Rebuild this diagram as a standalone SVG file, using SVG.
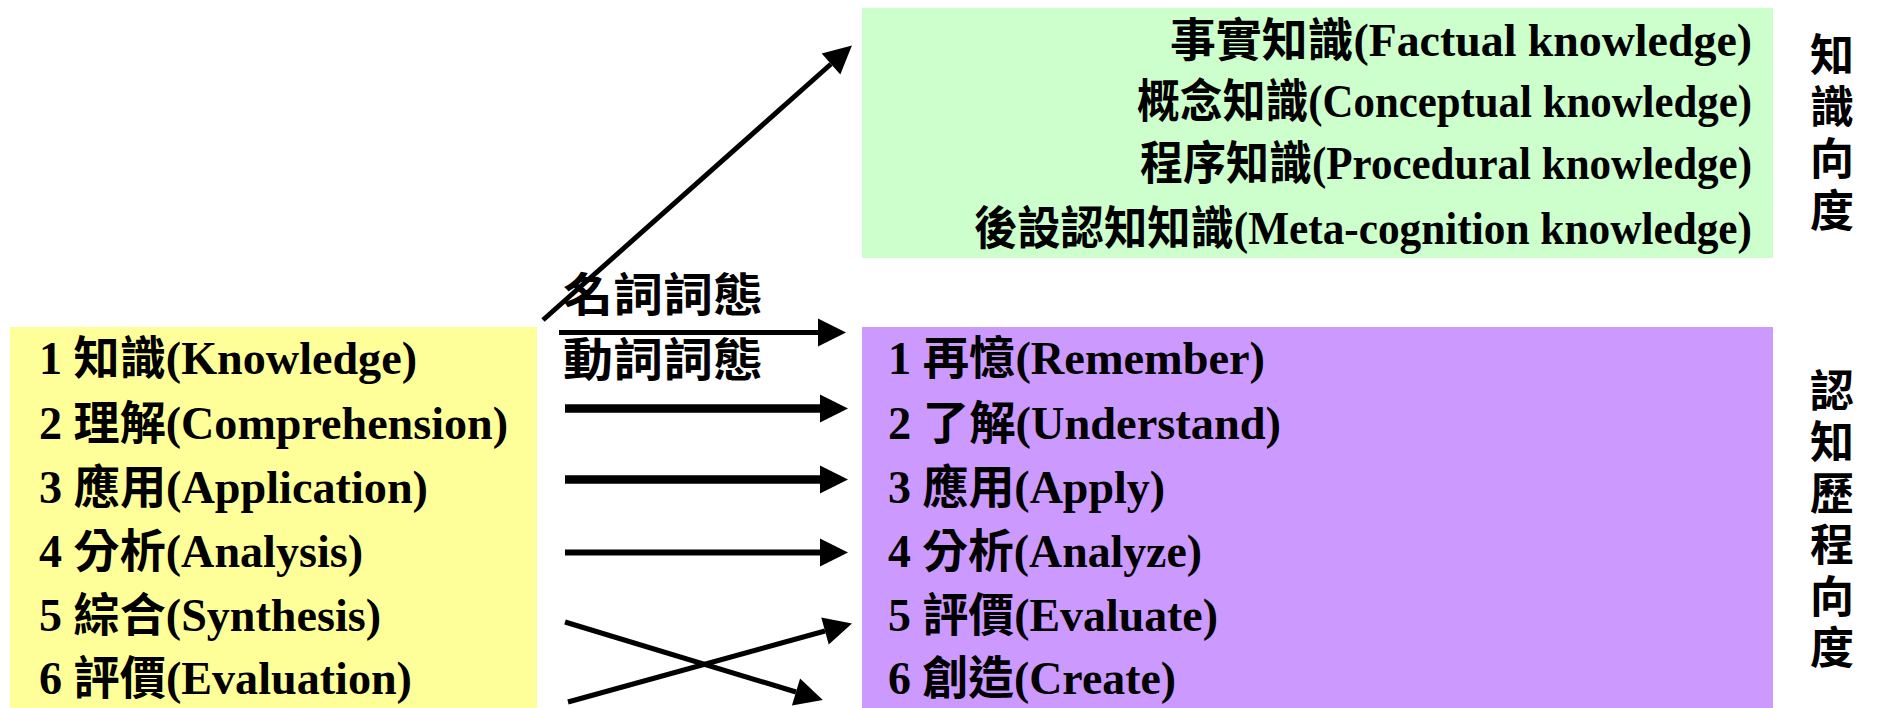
<svg xmlns="http://www.w3.org/2000/svg" width="1877" height="708" viewBox="0 0 1877 708">
<defs>
<style>
.t{font-family:"Liberation Serif","Noto Sans CJK TC",serif;font-size:46px;font-weight:bold;fill:#000}
.v{font-family:"Noto Sans CJK TC","Liberation Serif",sans-serif;font-size:44px;font-weight:bold;fill:#000;writing-mode:vertical-rl;text-orientation:upright}
.e{text-anchor:end}
.c{stroke:#000;fill:none}
</style>
<marker id="ah" markerUnits="userSpaceOnUse" markerWidth="28" markerHeight="28" refX="0" refY="14" orient="auto" overflow="visible"><path d="M0,0 L28,14 L0,28 z" fill="#000"/></marker>
</defs>
<rect width="1877" height="708" fill="#fff"/>

<g id="knowledge-dimension">
<rect x="862" y="8" width="911" height="250" fill="#CCFFCC"/>
<text class="t e" x="1752" y="56" textLength="582" lengthAdjust="spacingAndGlyphs">事實知識(Factual knowledge)</text>
<text class="t e" x="1752" y="117" textLength="615" lengthAdjust="spacingAndGlyphs">概念知識(Conceptual knowledge)</text>
<text class="t e" x="1752" y="179" textLength="612" lengthAdjust="spacingAndGlyphs">程序知識(Procedural knowledge)</text>
<text class="t e" x="1752" y="244" textLength="778" lengthAdjust="spacingAndGlyphs">後設認知知識(Meta-cognition knowledge)</text>
</g>

<g id="old-taxonomy">
<rect x="10" y="327" width="527" height="381" fill="#FFFF99"/>
<text class="t" x="39" y="374" textLength="378" lengthAdjust="spacingAndGlyphs">1 知識(Knowledge)</text>
<text class="t" x="39" y="439" textLength="469" lengthAdjust="spacingAndGlyphs">2 理解(Comprehension)</text>
<text class="t" x="39" y="503" textLength="389" lengthAdjust="spacingAndGlyphs">3 應用(Application)</text>
<text class="t" x="39" y="567" textLength="324" lengthAdjust="spacingAndGlyphs">4 分析(Analysis)</text>
<text class="t" x="39" y="631" textLength="342" lengthAdjust="spacingAndGlyphs">5 綜合(Synthesis)</text>
<text class="t" x="39" y="694" textLength="373" lengthAdjust="spacingAndGlyphs">6 評價(Evaluation)</text>
</g>

<g id="new-taxonomy">
<rect x="862" y="327" width="911" height="381" fill="#CC99FF"/>
<text class="t" x="888" y="374" textLength="377" lengthAdjust="spacingAndGlyphs">1 再憶(Remember)</text>
<text class="t" x="888" y="439" textLength="393" lengthAdjust="spacingAndGlyphs">2 了解(Understand)</text>
<text class="t" x="888" y="503" textLength="277" lengthAdjust="spacingAndGlyphs">3 應用(Apply)</text>
<text class="t" x="888" y="567" textLength="314" lengthAdjust="spacingAndGlyphs">4 分析(Analyze)</text>
<text class="t" x="888" y="631" textLength="330" lengthAdjust="spacingAndGlyphs">5 評價(Evaluate)</text>
<text class="t" x="888" y="694" textLength="288" lengthAdjust="spacingAndGlyphs">6 創造(Create)</text>
</g>

<g id="label-knowledge-dimension">
<text class="v" x="1832" y="32" letter-spacing="8">知識向度</text>
</g>

<g id="label-cognitive-dimension">
<text class="v" x="1832" y="368" letter-spacing="7.5">認知歷程向度</text>
</g>

<g id="label-noun">
<text class="t" x="563" y="311" textLength="200" lengthAdjust="spacingAndGlyphs">名詞詞態</text>
</g>
<g id="label-verb">
<text class="t" x="563" y="376" textLength="200" lengthAdjust="spacingAndGlyphs">動詞詞態</text>
</g>

<g id="connectors">
<path class="c" d="M543,320 L831,64" stroke-width="5" marker-end="url(#ah)"/>
<path class="c" d="M559,332.5 L818,332.5" stroke-width="5" marker-end="url(#ah)"/>
<path class="c" d="M565,408.5 L820,408.5" stroke-width="8.5" marker-end="url(#ah)"/>
<path class="c" d="M565,479.5 L820,479.5" stroke-width="8.5" marker-end="url(#ah)"/>
<path class="c" d="M565,552.5 L820,552.5" stroke-width="6" marker-end="url(#ah)"/>
<path class="c" d="M565,622 L796,692" stroke-width="5" marker-end="url(#ah)"/>
<path class="c" d="M568,702 L825,631" stroke-width="5" marker-end="url(#ah)"/>
</g>
</svg>
